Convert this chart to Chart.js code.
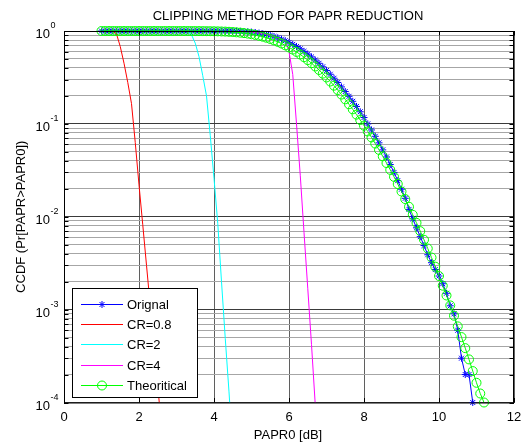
<!DOCTYPE html>
<html>
<head>
<meta charset="utf-8">
<title>Clipping method for PAPR reduction</title>
<script src="https://cdn.jsdelivr.net/npm/chart.js@4.4.1/dist/chart.umd.min.js"></script>
<style>
    html, body { margin: 0; padding: 0; background: #fff; }
    #wrap { width: 527px; height: 443px; position: relative; }
</style>
</head>
<body>
<div id="wrap"><canvas id="paprChart" width="527" height="443"></canvas></div>
<script>
// --- Data ---
// All series share the same PAPR0 grid (dB); each series uses its first N points
const paprGrid = [
    1.0, 1.1, 1.2, 1.3, 1.4, 1.5, 1.6, 1.7, 1.8, 1.9,
    2.0, 2.1, 2.2, 2.3, 2.4, 2.5, 2.6, 2.7, 2.8, 2.9,
    3.0, 3.1, 3.2, 3.3, 3.4, 3.5, 3.6, 3.7, 3.8, 3.9,
    4.0, 4.1, 4.2, 4.3, 4.4, 4.5, 4.6, 4.7, 4.8, 4.9,
    5.0, 5.1, 5.2, 5.3, 5.4, 5.5, 5.6, 5.7, 5.8, 5.9,
    6.0, 6.1, 6.2, 6.3, 6.4, 6.5, 6.6, 6.7, 6.8, 6.9,
    7.0, 7.1, 7.2, 7.3, 7.4, 7.5, 7.6, 7.7, 7.8, 7.9,
    8.0, 8.1, 8.2, 8.3, 8.4, 8.5, 8.6, 8.7, 8.8, 8.9,
    9.0, 9.1, 9.2, 9.3, 9.4, 9.5, 9.6, 9.7, 9.8, 9.9,
    10.0, 10.1, 10.2, 10.3, 10.4, 10.5, 10.6, 10.7, 10.8, 10.9,
    11.0, 11.1, 11.2
];

// Orignal (simulated, no clipping) - 1.0 .. 10.9 dB
const origCcdf = [
    1, 1, 1, 1, 1, 1, 1, 1, 1, 1,
    1, 1, 1, 1, 1, 1, 1, 1, 1, 1,
    1, 1, 1, 1, 1, 1, 1, 1, 1, 1,
    1, 1, 1, 1, 0.999, 0.997, 0.995, 0.992, 0.987, 0.981,
    0.973, 0.963, 0.950, 0.935, 0.917, 0.896, 0.872, 0.846, 0.817, 0.786,
    0.753, 0.718, 0.681, 0.643, 0.604, 0.565, 0.526, 0.487, 0.449, 0.412,
    0.376, 0.342, 0.310, 0.279, 0.250, 0.223, 0.198, 0.175, 0.154, 0.135,
    0.117, 0.100, 0.0860, 0.0735, 0.0625, 0.0525, 0.0440, 0.0365, 0.0300, 0.0245,
    0.0198, 0.0158, 0.0120, 0.0095, 0.0076, 0.0061, 0.0049, 0.0039, 0.0032, 0.0027,
    0.0023, 0.0019, 0.0015, 0.0011, 0.0009, 0.0006, 0.0003, 0.0002, 0.0002, 0.0001
];

// CR=0.8 - 1.0 .. 2.6 dB
const cr08Ccdf = [
    1, 1, 1, 0.995, 0.93, 0.68, 0.45, 0.28, 0.165, 0.063,
    0.022, 0.0082, 0.0030, 0.0011, 0.00040, 0.00015, 0.000055
];

// CR=2 - 1.0 .. 4.5 dB
const cr2Ccdf = [
    1, 1, 1, 1, 1, 1, 1, 1, 1, 1,
    1, 1, 1, 1, 1, 1, 1, 1, 1, 1,
    1, 1, 1, 0.99, 0.91, 0.74, 0.53, 0.33, 0.20, 0.075,
    0.026, 0.0085, 0.0020, 0.00049, 0.00013, 0.00003
];

// CR=4 - 1.0 .. 6.8 dB
const cr4Ccdf = [
    1, 1, 1, 1, 1, 1, 1, 1, 1, 1,
    1, 1, 1, 1, 1, 1, 1, 1, 1, 1,
    1, 1, 1, 1, 1, 1, 1, 1, 1, 1,
    1, 1, 1, 1, 0.999, 0.997, 0.995, 0.992, 0.987, 0.981,
    0.973, 0.963, 0.950, 0.935, 0.917, 0.896, 0.872, 0.846, 0.817, 0.786,
    0.60, 0.34, 0.10, 0.028, 0.0068, 0.0017, 0.00042, 0.000095, 0.00002
];

// Theoritical - 1.0 .. 11.2 dB
const theoCcdf = [
    1, 1, 1, 1, 1, 1, 1, 1, 1, 1,
    1, 1, 1, 1, 1, 1, 1, 1, 1, 1,
    1, 1, 1, 1, 1, 0.9989, 0.9984, 0.9977, 0.9968, 0.9956,
    0.9939, 0.9917, 0.9888, 0.9852, 0.9806, 0.9748, 0.9678, 0.9593, 0.9492, 0.9372,
    0.9233, 0.9073, 0.8890, 0.8685, 0.8457, 0.8207, 0.7935, 0.7643, 0.7331, 0.7005,
    0.6665, 0.6314, 0.5954, 0.5590, 0.5225, 0.4862, 0.4502, 0.4150, 0.3808, 0.3477,
    0.3162, 0.2862, 0.2579, 0.2313, 0.2066, 0.1837, 0.1626, 0.1434, 0.1258, 0.1100,
    0.0957, 0.0829, 0.0715, 0.0614, 0.0525, 0.0447, 0.0379, 0.0320, 0.0269, 0.0225,
    0.0187, 0.0155, 0.0128, 0.0105, 0.0086, 0.0070, 0.00565, 0.00455, 0.00364, 0.00290,
    0.00230, 0.00181, 0.00142, 0.00111, 0.00086, 0.00066, 0.000506, 0.000385, 0.000291, 0.000218,
    0.000163, 0.000125, 0.000100
];

const seriesLabels = ['Orignal', 'CR=0.8', 'CR=2', 'CR=4', 'Theoritical'];

// Axis ticks
const xTicks = [0, 2, 4, 6, 8, 10, 12];
const yDecades = [1e-4, 1e-3, 1e-2, 1e-1, 1];
const yDecadeExps = ['-4', '-3', '-2', '-1', '0'];
const yMinorSteps = [2, 3, 4, 5, 6, 7, 8, 9];

const titleText = 'CLIPPING METHOD FOR PAPR REDUCTION';
const xTitleText = 'PAPR0 [dB]';
const yTitleText = 'CCDF (Pr[PAPR>PAPR0])';

// --- Helpers ---
const FONT = 'Arial, "Liberation Sans", Helvetica, sans-serif';

function toPoints(values) {
    return values.map((v, i) => ({ x: paprGrid[i], y: v }));
}

function isDecade(v) {
    const l = Math.log10(v);
    return Math.abs(l - Math.round(l)) < 1e-9;
}

function drawStar(ctx, x, y, r) {
    const d = r * Math.SQRT1_2;
    ctx.beginPath();
    ctx.moveTo(x - r, y); ctx.lineTo(x + r, y);
    ctx.moveTo(x, y - r); ctx.lineTo(x, y + r);
    ctx.moveTo(x - d, y - d); ctx.lineTo(x + d, y + d);
    ctx.moveTo(x - d, y + d); ctx.lineTo(x + d, y - d);
    ctx.stroke();
}

// --- Plugin: axes box, inner ticks, texts and the legend (MATLAB look) ---
const matlabLook = {
    id: 'matlabLook',
    afterDatasetsDraw(chart) {
        const ctx = chart.ctx;
        const area = chart.chartArea;
        const xs = chart.scales.x;
        const ys = chart.scales.y;
        const tickLen = 4.5;

        ctx.save();
        // box
        ctx.strokeStyle = '#000';
        ctx.lineWidth = 1;
        ctx.strokeRect(area.left + 0.5, area.top + 0.5, area.right - area.left - 1, area.bottom - area.top);

        // inner ticks
        ctx.beginPath();
        xTicks.forEach(v => {
            const px = Math.round(xs.getPixelForValue(v)) + 0.5;
            ctx.moveTo(px, area.bottom); ctx.lineTo(px, area.bottom - tickLen);
            ctx.moveTo(px, area.top); ctx.lineTo(px, area.top + tickLen);
        });
        ys.ticks.forEach(t => {
            const py = Math.round(ys.getPixelForValue(t.value)) + 0.5;
            ctx.moveTo(area.left, py); ctx.lineTo(area.left + tickLen, py);
            ctx.moveTo(area.right, py); ctx.lineTo(area.right - tickLen, py);
        });
        ctx.stroke();

        // legend
        const datasets = chart.data.datasets;
        const box = { x: area.left + 8, y: area.bottom - 114.5, w: 125, h: 109 };
        ctx.fillStyle = '#fff';
        ctx.fillRect(box.x, box.y, box.w, box.h);
        ctx.strokeStyle = '#000';
        ctx.strokeRect(box.x + 0.5, box.y + 0.5, box.w, box.h);
        ctx.font = '13px ' + FONT;
        ctx.textAlign = 'left';
        ctx.textBaseline = 'middle';
        seriesLabels.forEach((label, i) => {
            const ds = datasets[i];
            const rowY = Math.round(box.y + 16 + i * 20.2) + 0.5;
            const x0 = box.x + 9, x1 = box.x + 51, xm = (x0 + x1) / 2;
            ctx.strokeStyle = ds.borderColor;
            ctx.lineWidth = 1;
            ctx.beginPath();
            ctx.moveTo(x0, rowY); ctx.lineTo(x1, rowY);
            ctx.stroke();
            if (ds.pointStyle === 'star') {
                drawStar(ctx, xm, rowY, ds.pointRadius);
            } else if (ds.pointStyle === 'circle' && ds.pointRadius > 0) {
                ctx.beginPath();
                ctx.arc(xm, rowY, ds.pointRadius, 0, Math.PI * 2);
                ctx.stroke();
            }
            ctx.fillStyle = '#000';
            ctx.fillText(label, box.x + 55, rowY + 1);
        });
        ctx.restore();
    },
    afterDraw(chart) {
        const ctx = chart.ctx;
        const area = chart.chartArea;
        const xs = chart.scales.x;
        const ys = chart.scales.y;
        const midX = (area.left + area.right) / 2;
        const midY = (area.top + area.bottom) / 2;

        ctx.save();
        ctx.fillStyle = '#000';

        // title
        ctx.font = '13px ' + FONT;
        ctx.textAlign = 'center';
        ctx.textBaseline = 'alphabetic';
        ctx.fillText(titleText, midX - 1, 19.5);

        // x tick labels
        xTicks.forEach(v => {
            ctx.fillText(String(v), xs.getPixelForValue(v), area.bottom + 18.3);
        });

        // x title
        ctx.fillText(xTitleText, midX - 1, area.bottom + 36.3);

        // y tick labels: 10 with superscript exponent
        yDecades.forEach((v, i) => {
            const py = ys.getPixelForValue(v);
            ctx.font = '13px ' + FONT;
            ctx.textAlign = 'right';
            ctx.fillText('10', 50, py + 7.2);
            ctx.font = '9px ' + FONT;
            ctx.textAlign = 'left';
            ctx.fillText(yDecadeExps[i], 50.5, py - 2.8);
        });

        // y title (rotated)
        ctx.font = '13px ' + FONT;
        ctx.translate(21, midY);
        ctx.rotate(-Math.PI / 2);
        ctx.textAlign = 'center';
        ctx.textBaseline = 'middle';
        ctx.fillText(yTitleText, 0, 0);
        ctx.restore();
    }
};

// --- Build the chart ---
const ctx = document.getElementById('paprChart').getContext('2d');

const lineBase = {
    showLine: true,
    tension: 0,
    borderWidth: 1,
    pointRadius: 0,
    pointHoverRadius: 0,
    fill: false
};

new Chart(ctx, {
    type: 'scatter',
    data: {
        datasets: [
            Object.assign({}, lineBase, {
                label: seriesLabels[0],
                data: toPoints(origCcdf),
                borderColor: '#0000ff',
                pointStyle: 'star',
                pointRadius: 3.5,
                pointBorderWidth: 1,
                pointBorderColor: '#0000ff',
                pointBackgroundColor: '#0000ff',
                clip: false,
                order: 5
            }),
            Object.assign({}, lineBase, {
                label: seriesLabels[1],
                data: toPoints(cr08Ccdf),
                borderColor: '#ff0000',
                order: 4
            }),
            Object.assign({}, lineBase, {
                label: seriesLabels[2],
                data: toPoints(cr2Ccdf),
                borderColor: '#00ffff',
                order: 3
            }),
            Object.assign({}, lineBase, {
                label: seriesLabels[3],
                data: toPoints(cr4Ccdf),
                borderColor: '#ff00ff',
                order: 2
            }),
            Object.assign({}, lineBase, {
                label: seriesLabels[4],
                data: toPoints(theoCcdf),
                borderColor: '#00ff00',
                pointStyle: 'circle',
                pointRadius: 4.5,
                pointBorderWidth: 1,
                pointBorderColor: '#00ff00',
                pointBackgroundColor: 'rgba(0,0,0,0)',
                clip: false,
                order: 1
            })
        ]
    },
    options: {
        responsive: false,
        animation: false,
        events: [],
        layout: { padding: { top: 31, right: 13, bottom: 0, left: 0 } },
        plugins: {
            legend: { display: false },
            tooltip: { enabled: false },
            title: { display: false }
        },
        scales: {
            x: {
                type: 'linear',
                min: 0,
                max: 12,
                afterBuildTicks: scale => { scale.ticks = xTicks.map(v => ({ value: v })); },
                afterFit: scale => { scale.height = 40.5; },
                ticks: { display: false },
                border: { display: false },
                grid: { color: '#5f5f5f', lineWidth: 1, drawTicks: false }
            },
            y: {
                type: 'logarithmic',
                min: 1e-4,
                max: 1,
                afterBuildTicks: scale => {
                    const ticks = [];
                    yDecades.forEach(d => {
                        ticks.push({ value: d });
                        if (d < 1) yMinorSteps.forEach(m => ticks.push({ value: +(m * d).toPrecision(3) }));
                    });
                    scale.ticks = ticks;
                },
                afterFit: scale => { scale.width = 64; },
                ticks: { display: false, autoSkip: false },
                border: { display: false },
                grid: {
                    color: c => (c.tick && isDecade(c.tick.value)) ? '#3a3a3a' : '#a6a6a6',
                    lineWidth: 1,
                    drawTicks: false
                }
            }
        }
    },
    plugins: [matlabLook]
});
</script>
</body>
</html>
